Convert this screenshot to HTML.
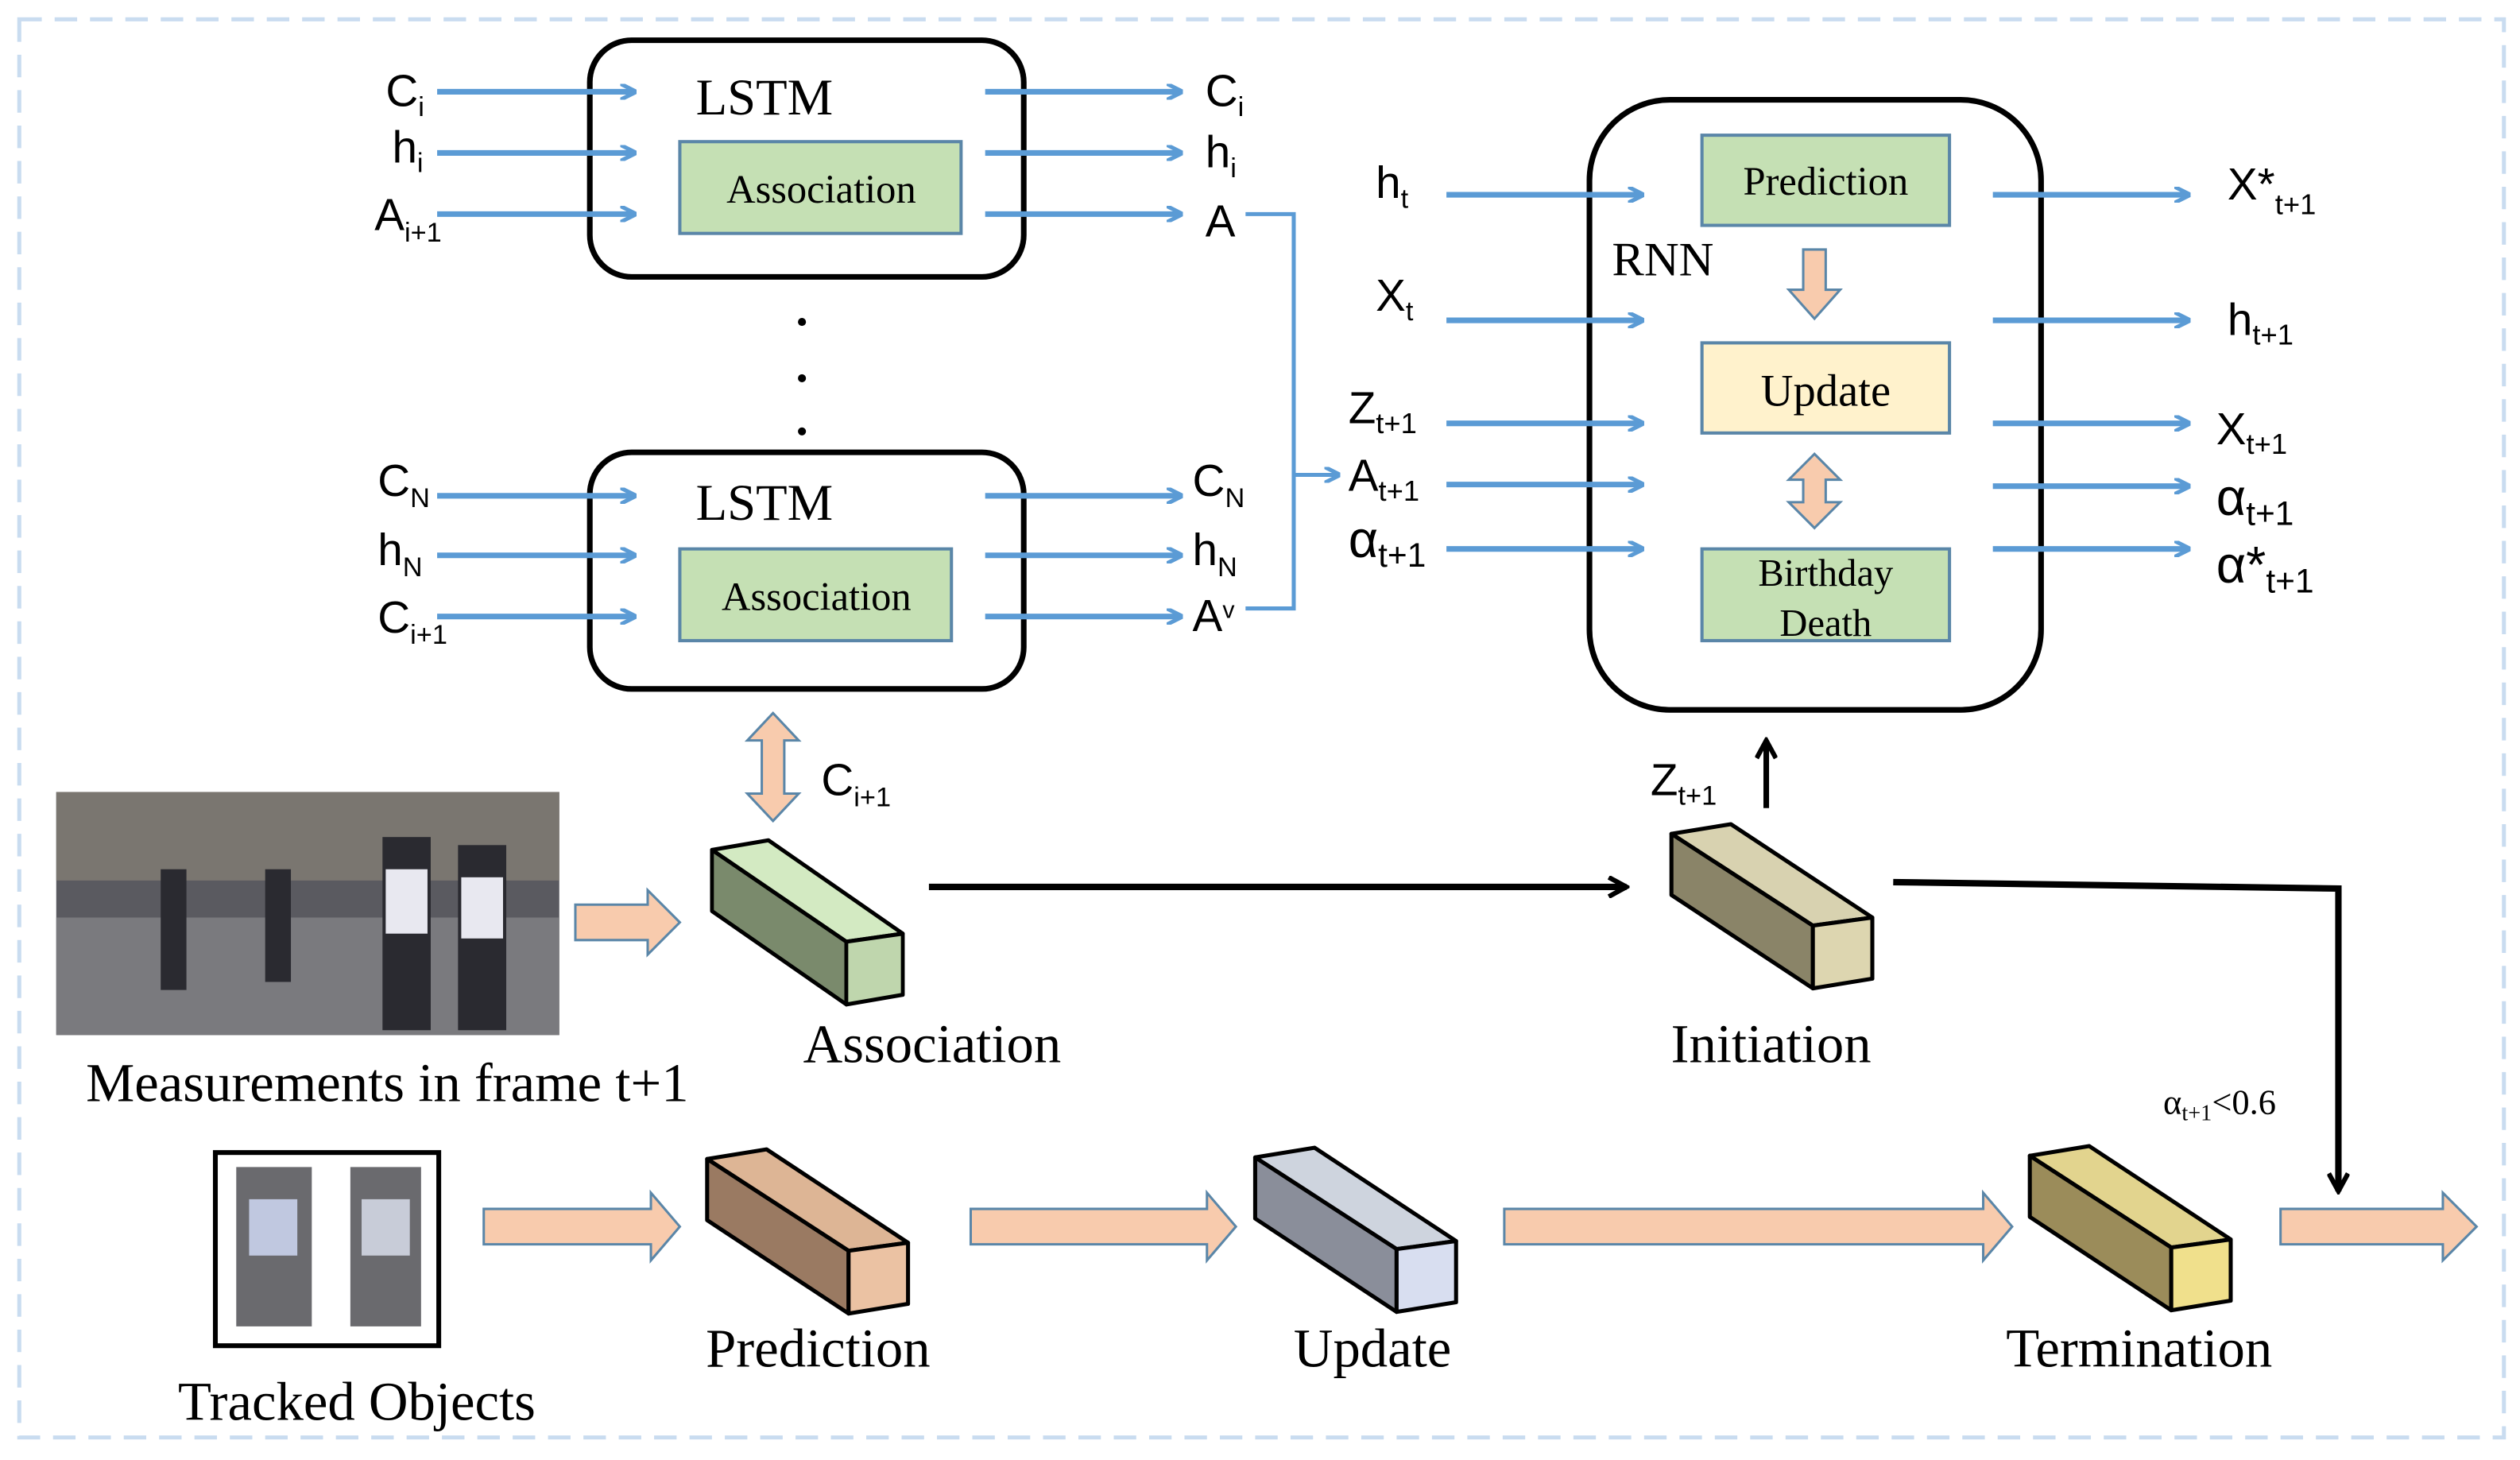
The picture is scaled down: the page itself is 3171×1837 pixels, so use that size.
<!DOCTYPE html>
<html><head><meta charset="utf-8"><style>
html,body{margin:0;padding:0;background:#fff}
svg{display:block}
.s{font-family:"Liberation Serif",serif}
.v{font-family:"Liberation Sans",sans-serif}
</style></head><body>
<svg width="3171" height="1837" viewBox="0 0 1568 907" preserveAspectRatio="none" xmlns="http://www.w3.org/2000/svg">
<defs>
<marker id="bl" markerWidth="10" markerHeight="10" refX="9" refY="5" orient="auto" markerUnits="userSpaceOnUse"><path d="M0,0 L10,5 L0,10" fill="none" stroke="#5b9bd5" stroke-width="2.5"/></marker>
<marker id="bk" markerWidth="14" markerHeight="14" refX="12" refY="7" orient="auto" markerUnits="userSpaceOnUse"><path d="M1,1 L12,7 L1,13" fill="none" stroke="#000" stroke-width="3"/></marker>
</defs>
<rect x="12" y="12" width="1546" height="881" fill="none" stroke="#c9dcf0" stroke-width="2.5" stroke-dasharray="14,8"/>

<g stroke="#000" stroke-width="3.5" fill="none">
<rect x="367" y="25" width="270" height="147" rx="26"/>
<rect x="367" y="281" width="270" height="147" rx="26"/>
<rect x="989" y="62" width="281" height="379" rx="50"/>
</g>
<g stroke="#5a86a8" stroke-width="2" fill="#c5e0b4">
<rect x="423" y="88" width="175" height="57"/>
<rect x="423" y="341" width="169" height="57"/>
<rect x="1059" y="84" width="154" height="56"/>
<rect x="1059" y="213" width="154" height="56" fill="#fff2cc"/>
<rect x="1059" y="341" width="154" height="57"/>
</g>
<g class="s" font-size="32" fill="#000">
<text x="433" y="71">LSTM</text>
<text x="433" y="323">LSTM</text>
<text x="1003" y="171" font-size="30">RNN</text>
</g>
<g class="s" font-size="25" fill="#000" text-anchor="middle">
<text x="511" y="126">Association</text>
<text x="508" y="379">Association</text>
<text x="1136" y="121">Prediction</text>
<text x="1136" y="252" font-size="28">Update</text>
<text x="1136" y="364" font-size="24">Birthday</text>
<text x="1136" y="395" font-size="24">Death</text>
</g>

<g stroke="#5b9bd5" stroke-width="3.5" marker-end="url(#bl)">
<line x1="272" y1="57" x2="395" y2="57"/><line x1="272" y1="95" x2="395" y2="95"/><line x1="272" y1="133" x2="395" y2="133"/>
<line x1="613" y1="57" x2="735" y2="57"/><line x1="613" y1="95" x2="735" y2="95"/><line x1="613" y1="133" x2="735" y2="133"/>
<line x1="272" y1="308" x2="395" y2="308"/><line x1="272" y1="345" x2="395" y2="345"/><line x1="272" y1="383" x2="395" y2="383"/>
<line x1="613" y1="308" x2="735" y2="308"/><line x1="613" y1="345" x2="735" y2="345"/><line x1="613" y1="383" x2="735" y2="383"/>
<line x1="900" y1="121" x2="1022" y2="121"/><line x1="900" y1="199" x2="1022" y2="199"/><line x1="900" y1="263" x2="1022" y2="263"/><line x1="900" y1="301" x2="1022" y2="301"/><line x1="900" y1="341" x2="1022" y2="341"/>
<line x1="1240" y1="121" x2="1362" y2="121"/><line x1="1240" y1="199" x2="1362" y2="199"/><line x1="1240" y1="263" x2="1362" y2="263"/><line x1="1240" y1="302" x2="1362" y2="302"/><line x1="1240" y1="341" x2="1362" y2="341"/>
<line x1="805" y1="295" x2="833" y2="295" stroke-width="2.5"/>
</g>
<path d="M775,133 H805 V378 H775" fill="none" stroke="#5b9bd5" stroke-width="2.5"/>
<g fill="#000"><circle cx="499" cy="200" r="2.5"/><circle cx="499" cy="235" r="2.5"/><circle cx="499" cy="268" r="2.5"/></g>

<g class="v" font-size="28" fill="#000">
<text x="240" y="66">C<tspan font-size="17" dy="6">i</tspan></text>
<text x="244" y="101">h<tspan font-size="17" dy="6">i</tspan></text>
<text x="233" y="143">A<tspan font-size="17" dy="7">i+1</tspan></text>
<text x="750" y="66">C<tspan font-size="17" dy="6">i</tspan></text>
<text x="750" y="104">h<tspan font-size="17" dy="6">i</tspan></text>
<text x="750" y="147">A</text>
<text x="235" y="308">C<tspan font-size="17" dy="7">N</tspan></text>
<text x="235" y="351">h<tspan font-size="17" dy="7">N</tspan></text>
<text x="235" y="393">C<tspan font-size="17" dy="7">i+1</tspan></text>
<text x="742" y="308">C<tspan font-size="17" dy="7">N</tspan></text>
<text x="742" y="351">h<tspan font-size="17" dy="7">N</tspan></text>
<text x="742" y="392">A<tspan font-size="15" dy="-8">v</tspan></text>
<text x="856" y="123">h<tspan font-size="17" dy="6">t</tspan></text>
<text x="856" y="193">X<tspan font-size="17" dy="6">t</tspan></text>
<text x="839" y="263">Z<tspan font-size="18" dy="6">t+1</tspan></text>
<text x="839" y="305">A<tspan font-size="18" dy="6">t+1</tspan></text>
<text x="839" y="346" font-size="32">α<tspan font-size="21" dy="6">t+1</tspan></text>
<text x="1386" y="124">X*<tspan font-size="18" dy="9">t+1</tspan></text>
<text x="1386" y="208">h<tspan font-size="18" dy="6">t+1</tspan></text>
<text x="1379" y="276">X<tspan font-size="18" dy="6">t+1</tspan></text>
<text x="1379" y="320" font-size="32">α<tspan font-size="21" dy="6">t+1</tspan></text>
<text x="1379" y="362" font-size="32">α*<tspan font-size="21" dy="6">t+1</tspan></text>
<text x="511" y="494">C<tspan font-size="17" dy="7">i+1</tspan></text>
<text x="1027" y="494">Z<tspan font-size="17" dy="6">t+1</tspan></text>
</g>
<text class="s" x="1346" y="692" font-size="22">α<tspan font-size="14" dy="4">t+1</tspan><tspan dy="-4">&lt;0.6</tspan></text>

<g fill="#f8cbad" stroke="#5a86a8" stroke-width="1.5">
<path d="M1122,155 H1136 V180 H1145 L1129,198 L1113,180 H1122 Z"/>
<path d="M1129,282 L1145,298 H1136 V312 H1145 L1129,328 L1113,312 H1122 V298 H1113 Z"/>
<path d="M481,443 L497,460 H488 V493 H497 L481,510 L465,493 H474 V460 H465 Z"/>
<path d="M358,562 H403 V553 L423,573 L403,593 V584 H358 Z"/>
<path d="M301,751 H405 V741 L423,762 L405,783 V773 H301 Z"/>
<path d="M604,751 H751 V741 L769,762 L751,783 V773 H604 Z"/>
<path d="M936,751 H1234 V741 L1252,762 L1234,783 V773 H936 Z"/>
<path d="M1419,751 H1520 V741 L1541,762 L1520,783 V773 H1419 Z"/>
</g>

<line x1="578" y1="551" x2="1012" y2="551" stroke="#000" stroke-width="4" marker-end="url(#bk)"/>
<path d="M1178,548 L1455,552 V740" fill="none" stroke="#000" stroke-width="4" marker-end="url(#bk)"/>
<line x1="1099" y1="502" x2="1099" y2="460" stroke="#000" stroke-width="3.5" marker-end="url(#bk)"/>

<!-- cuboids: A(0,0) B(37,-6) C(125,52) D(88,57) F(88,96) G(125,90) H(0,38) -->
<g stroke="#000" stroke-width="2.5" stroke-linejoin="round">
<g transform="translate(443,528) scale(0.95,1)"><path d="M0,0 L37,-6 L125,52 L88,57 Z" fill="#d3eac2"/><path d="M0,0 L88,57 L88,96 L0,38 Z" fill="#7a8a6c"/><path d="M88,57 L125,52 L125,90 L88,96 Z" fill="#bfd6ad"/></g>
<g transform="translate(1040,518)"><path d="M0,0 L37,-6 L125,52 L88,57 Z" fill="#d8d2b0"/><path d="M0,0 L88,57 L88,96 L0,38 Z" fill="#8a8468"/><path d="M88,57 L125,52 L125,90 L88,96 Z" fill="#ddd6b0"/></g>
<g transform="translate(440,720)"><path d="M0,0 L37,-6 L125,52 L88,57 Z" fill="#ddb595"/><path d="M0,0 L88,57 L88,96 L0,38 Z" fill="#9a7a62"/><path d="M88,57 L125,52 L125,90 L88,96 Z" fill="#ebc2a3"/></g>
<g transform="translate(781,719)"><path d="M0,0 L37,-6 L125,52 L88,57 Z" fill="#ced4de"/><path d="M0,0 L88,57 L88,96 L0,38 Z" fill="#8a8e9a"/><path d="M88,57 L125,52 L125,90 L88,96 Z" fill="#d8def0"/></g>
<g transform="translate(1263,718)"><path d="M0,0 L37,-6 L125,52 L88,57 Z" fill="#e2d48e"/><path d="M0,0 L88,57 L88,96 L0,38 Z" fill="#9b8c5a"/><path d="M88,57 L125,52 L125,90 L88,96 Z" fill="#f0e08c"/></g>
</g>

<!-- photo -->
<rect x="35" y="492" width="313" height="151" fill="#5a5a60"/>
<rect x="35" y="492" width="313" height="55" fill="#7a7670"/>
<rect x="35" y="570" width="313" height="73" fill="#7a7a7e"/>
<g fill="#2a2a30"><rect x="100" y="540" width="16" height="75"/><rect x="165" y="540" width="16" height="70"/><rect x="238" y="520" width="30" height="120"/><rect x="285" y="525" width="30" height="115"/></g>
<g fill="#e8e8f0"><rect x="240" y="540" width="26" height="40"/><rect x="287" y="545" width="26" height="38"/></g>

<rect x="134" y="716" width="139" height="120" fill="#fff" stroke="#000" stroke-width="3"/>
<rect x="147" y="725" width="47" height="99" fill="#6a6a6e"/><rect x="218" y="725" width="44" height="99" fill="#6a6a6e"/>
<rect x="155" y="745" width="30" height="35" fill="#c0c8e0"/><rect x="225" y="745" width="30" height="35" fill="#c8ccd8"/>

<g class="s" font-size="34" fill="#000" text-anchor="middle">
<text x="241" y="684">Measurements in frame t+1</text>
<text x="580" y="660">Association</text>
<text x="1102" y="660">Initiation</text>
<text x="509" y="849">Prediction</text>
<text x="854" y="849">Update</text>
<text x="1331" y="849">Termination</text>
<text x="222" y="882">Tracked Objects</text>
</g>
</svg>
</body></html>
